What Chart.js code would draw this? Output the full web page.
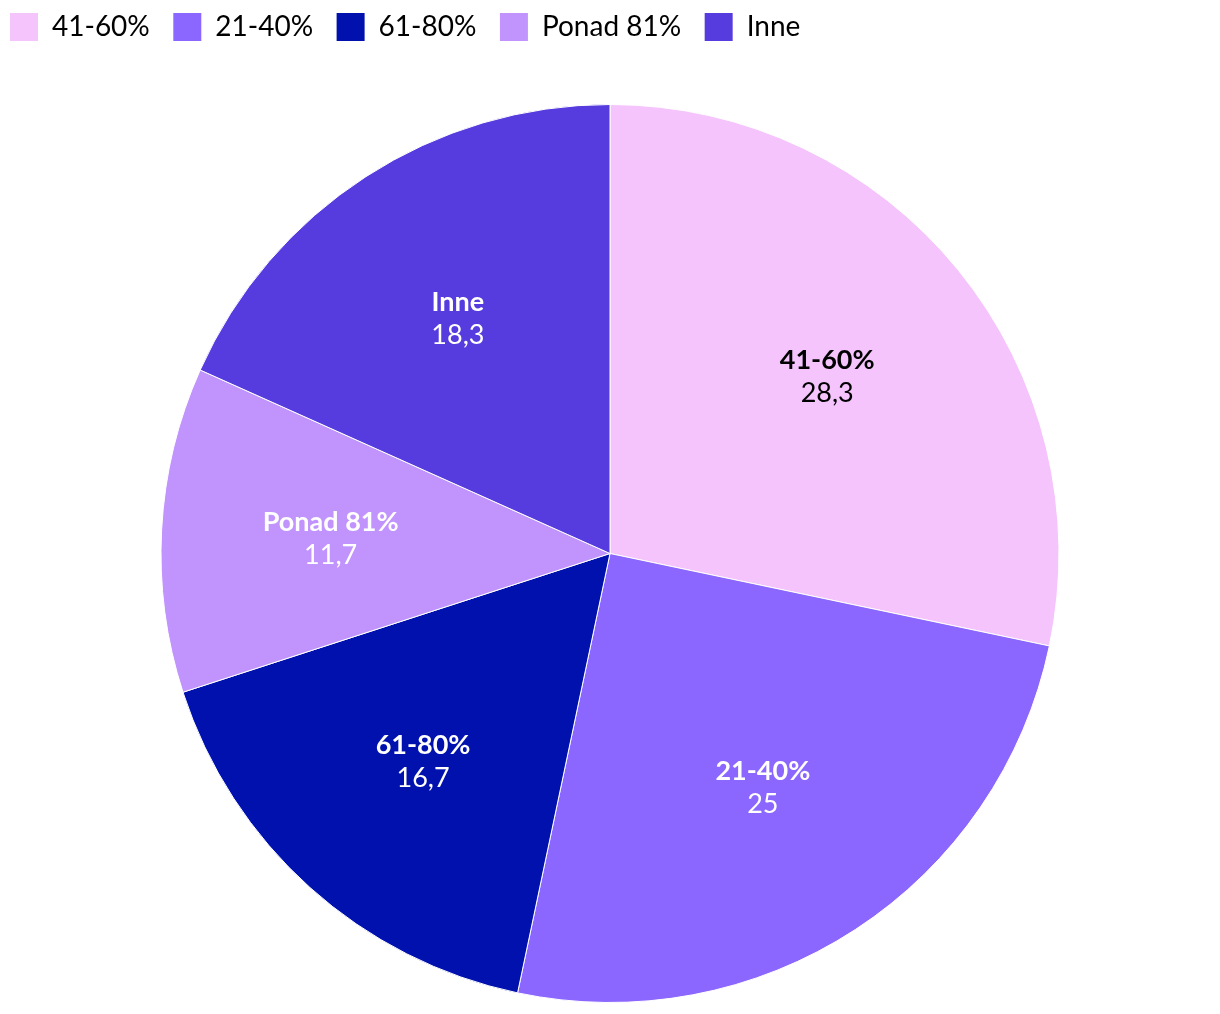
<!DOCTYPE html>
<html lang="pl">
<head>
<meta charset="utf-8">
<title>Wykres kołowy</title>
<script src="https://cdn.jsdelivr.net/npm/chart.js@4/dist/chart.umd.min.js"></script>
<style>
    html, body { margin: 0; padding: 0; background: #fff; overflow: hidden; }
    #wrap { width: 1220px; height: 1056px; }
</style>
</head>
<body>
<div id="wrap"><canvas id="pieChart"></canvas></div>
<script>
// Dane wykresu
const categories = ['41-60%', '21-40%', '61-80%', 'Ponad 81%', 'Inne'];
const values = [28.3, 25, 16.7, 11.7, 18.3];
const sliceColors = ['#F5C4FD', '#8B67FF', '#0011AD', '#C194FD', '#563BDE'];
const labelColors = ['#000000', '#ffffff', '#ffffff', '#ffffff', '#ffffff'];

// Formatowanie liczby z przecinkiem
function formatValue(v) {
    return String(v).replace('.', ',');
}

// Etykiety na wycinkach
const sliceLabels = {
    id: 'sliceLabels',
    afterDatasetsDraw(chart) {
        const ctx = chart.ctx;
        const meta = chart.getDatasetMeta(0);
        meta.data.forEach(function(arc, i) {
            const p = arc.getProps(['x', 'y', 'startAngle', 'endAngle', 'outerRadius'], true);
            const mid = (p.startAngle + p.endAngle) / 2;
            const r = p.outerRadius * 0.623;
            const x = p.x + Math.cos(mid) * r;
            const y = p.y + Math.sin(mid) * r;
            ctx.save();
            ctx.fillStyle = labelColors[i];
            ctx.textAlign = 'center';
            ctx.textBaseline = 'middle';
            ctx.font = 'bold 27px Lato';
            ctx.fillText(categories[i], x, y - 16.5);
            ctx.font = '27px Lato';
            ctx.fillText(formatValue(values[i]), x, y + 16.5);
            ctx.restore();
        });
    }
};

const pieChart = new Chart(document.getElementById('pieChart'), {
    type: 'pie',
    data: {
        labels: categories,
        datasets: [{
            data: values,
            backgroundColor: sliceColors,
            borderColor: '#ffffff',
            borderWidth: 1,
            radius: 449
        }]
    },
    options: {
        responsive: true,
        maintainAspectRatio: false,
        animation: false,
        layout: {
            padding: { left: -13.5, right: -13.5, top: -10.5, bottom: 0 }
        },
        plugins: {
            legend: {
                position: 'top',
                align: 'start',
                labels: {
                    boxWidth: 28,
                    boxHeight: 28,
                    padding: 23.5,
                    color: '#000000',
                    font: { family: 'Lato', size: 28 },
                    generateLabels(chart) {
                        const items = Chart.overrides.pie.plugins.legend.labels.generateLabels(chart);
                        items.forEach(function(item) { item.lineWidth = 0; });
                        return items;
                    }
                }
            },
            tooltip: { enabled: false }
        }
    },
    plugins: [sliceLabels]
});
</script>
</body>
</html>
